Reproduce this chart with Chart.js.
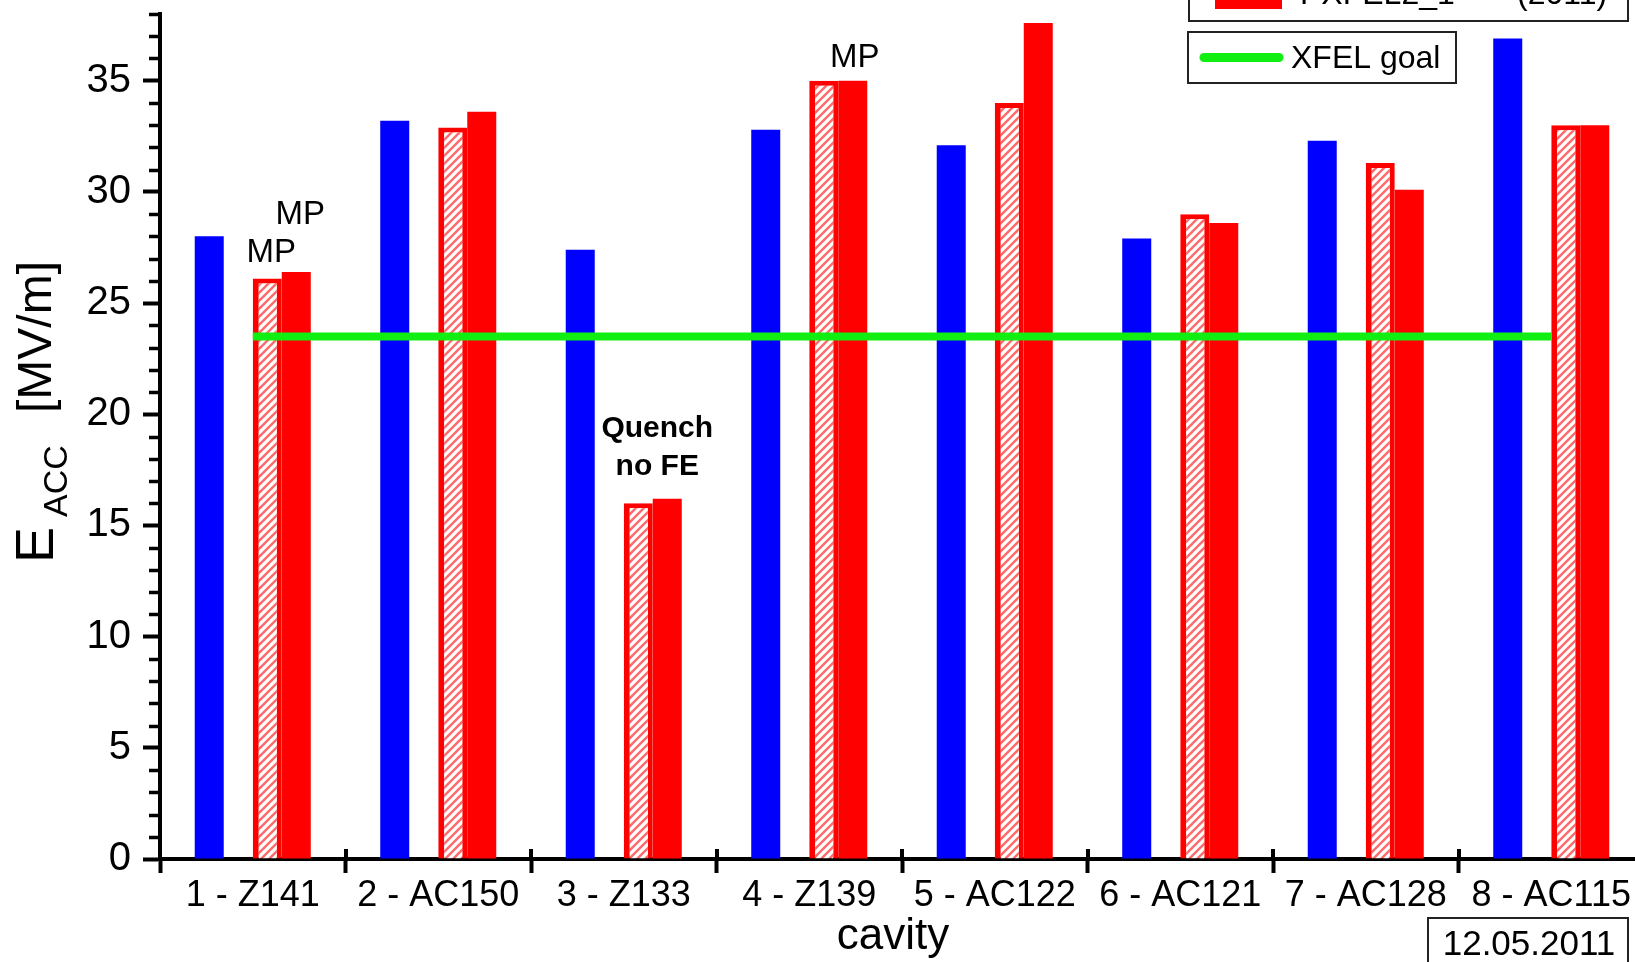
<!DOCTYPE html>
<html><head><meta charset="utf-8">
<script src="https://cdn.jsdelivr.net/npm/chart.js@4/dist/chart.umd.min.js"></script>
<style>
html,body{margin:0;padding:0;background:#fff;overflow:hidden;width:1635px;height:962px}
#wrap{position:absolute;left:0;top:0;width:1646px;height:962px}
</style></head><body><div id="wrap"><canvas id="c" width="1646" height="962"></canvas></div>
<script>
// ---- data ----
const categories = ['1 - Z141','2 - AC150','3 - Z133','4 - Z139','5 - AC122','6 - AC121','7 - AC128','8 - AC115'];
const verticalTest = [28.0, 33.2, 27.4, 32.8, 32.1, 27.9, 32.3, 36.9];
const gapSlot      = [null, null, null, null, null, null, null, null];
const moduleHatched = [26.1, 32.9, 16.0, 35.0, 34.0, 29.0, 31.3, 33.0];
const moduleSolid   = [26.4, 33.6, 16.2, 35.0, 37.6, 28.6, 30.1, 33.0];
const xfelGoal = [23.5, 23.5, 23.5, 23.5, 23.5, 23.5, 23.5, 23.5];
const yMin = 0, yMax = 38, yMajorStep = 5, yMinorStep = 1;
const legendLabels = ['PXFEL2_1       (2011)', 'XFEL goal'];
const dateLabel = '12.05.2011';
const xTitle = 'cavity';
const annotations = [
  {ds: 2, idx: 0, lines: ['MP'], bold: false, dx: 4, dy: -26},
  {ds: 3, idx: 0, lines: ['MP'], bold: false, dx: 4, dy: -57},
  {ds: 3, idx: 3, lines: ['MP'], bold: false, dx: 2, dy: -23},
  {ds: 3, idx: 2, lines: ['Quench', 'no FE'], bold: true, dx: -10, dy: -32}
];

const FONT = '"Liberation Sans", Arial, Helvetica, sans-serif';
Chart.defaults.font.family = FONT;
Chart.defaults.color = '#000';

function hatchPattern() {
  const s = 8;
  const c = document.createElement('canvas');
  c.width = s; c.height = s;
  const g = c.getContext('2d');
  g.fillStyle = '#fff'; g.fillRect(0, 0, s, s);
  g.strokeStyle = '#ff6a6a'; g.lineWidth = 2.4;
  g.beginPath();
  g.moveTo(0, s); g.lineTo(s, 0);
  g.moveTo(-s / 2, s / 2); g.lineTo(s / 2, -s / 2);
  g.moveTo(s / 2, s * 1.5); g.lineTo(s * 1.5, s / 2);
  g.stroke();
  return g.createPattern(c, 'repeat');
}

const decor = {
  id: 'decor',
  afterDatasetsDraw(chart) {
    const ctx = chart.ctx;
    ctx.save();
    ctx.fillStyle = '#000';
    ctx.textAlign = 'center';
    ctx.textBaseline = 'middle';
    annotations.forEach(a => {
      const el = chart.getDatasetMeta(a.ds).data[a.idx];
      const n = a.lines.length;
      const lh = a.bold ? 38 : 34;
      ctx.font = (a.bold ? 'bold 30px ' : '33px ') + FONT;
      a.lines.forEach((t, k) => {
        ctx.fillText(t, el.x + a.dx, el.y + a.dy - (n - 1 - k) * lh);
      });
    });
    ctx.restore();
  },
  afterDraw(chart) {
    const ctx = chart.ctx;
    const ca = chart.chartArea;
    const sx = chart.scales.x, sy = chart.scales.y;
    ctx.save();
    // minor y ticks
    ctx.strokeStyle = '#000'; ctx.lineWidth = 3.5;
    ctx.beginPath();
    for (let v = yMin; v <= yMax; v += yMinorStep) {
      if (v % yMajorStep === 0) continue;
      const y = Math.round(sy.getPixelForValue(v)) + 0.5;
      ctx.moveTo(ca.left - 11, y); ctx.lineTo(ca.left, y);
    }
    ctx.stroke();
    // inner part of category separators
    ctx.lineWidth = 4;
    ctx.beginPath();
    for (let i = 1; i < categories.length; i++) {
      const x = Math.round((sx.getPixelForValue(i - 1) + sx.getPixelForValue(i)) / 2);
      ctx.moveTo(x, ca.bottom); ctx.lineTo(x, ca.bottom - 10);
    }
    ctx.stroke();
    // x axis title
    ctx.fillStyle = '#000';
    ctx.font = '44px ' + FONT;
    ctx.textAlign = 'center'; ctx.textBaseline = 'middle';
    ctx.fillText(xTitle, ca.left + (ca.right - ca.left) * 0.494, 937);
    // y axis title with subscript
    ctx.textBaseline = 'alphabetic';
    ctx.textAlign = 'left';
    ctx.translate(53, 563);
    ctx.rotate(-Math.PI / 2);
    ctx.font = '54px ' + FONT; ctx.fillText('E', 0, 0);
    ctx.font = '34px ' + FONT; ctx.fillText('ACC', 46, 14);
    ctx.font = '48px ' + FONT; ctx.fillText('[MV/m]', 150, -2);
    ctx.restore();

    // legend boxes
    ctx.save();
    ctx.lineWidth = 2; ctx.strokeStyle = '#222';
    ctx.fillStyle = '#fff';
    ctx.fillRect(1189, -60, 439, 81); ctx.strokeRect(1189, -60, 439, 81);
    ctx.fillStyle = '#ff0000';
    ctx.fillRect(1215, -30, 67, 39);
    ctx.fillStyle = '#000'; ctx.font = '32px ' + FONT;
    ctx.textAlign = 'left'; ctx.textBaseline = 'alphabetic';
    ctx.fillText(legendLabels[0], 1300, 4);

    ctx.fillStyle = '#fff';
    ctx.fillRect(1188, 32, 268, 51); ctx.strokeRect(1188, 32, 268, 51);
    ctx.strokeStyle = '#11ee11'; ctx.lineWidth = 9; ctx.lineCap = 'round';
    ctx.beginPath(); ctx.moveTo(1204, 57.5); ctx.lineTo(1279, 57.5); ctx.stroke();
    ctx.fillStyle = '#000'; ctx.textBaseline = 'middle';
    ctx.fillText(legendLabels[1], 1291, 59);

    // date box
    ctx.lineWidth = 2; ctx.strokeStyle = '#222'; ctx.fillStyle = '#fff';
    ctx.fillRect(1428, 918, 200, 80); ctx.strokeRect(1428, 918, 200, 80);
    ctx.fillStyle = '#000'; ctx.font = '35px ' + FONT; ctx.textAlign = 'center';
    ctx.fillText(dateLabel, 1529, 945);
    ctx.restore();
  }
};

const ctx = document.getElementById('c').getContext('2d');
new Chart(ctx, {
  type: 'bar',
  data: {
    labels: categories,
    datasets: [
      {label: 'vertical test', data: verticalTest, backgroundColor: '#0000ff', borderWidth: 0, order: 1},
      {label: '', data: gapSlot, backgroundColor: 'rgba(0,0,0,0)', order: 1},
      {label: 'module hatched', data: moduleHatched, backgroundColor: hatchPattern(), borderColor: '#ff0000', borderWidth: {left: 6, top: 5, right: 5, bottom: 0}, order: 1},
      {label: legendLabels[0], data: moduleSolid, backgroundColor: '#ff0000', borderWidth: 0, order: 1},
      {type: 'line', label: legendLabels[1], data: xfelGoal, borderColor: '#11ee11', borderWidth: 8, pointRadius: 0, fill: false, order: 0, borderCapStyle: 'butt'}
    ]
  },
  options: {
    responsive: false,
    animation: false,
    devicePixelRatio: 1,
    categoryPercentage: 0.6255,
    barPercentage: 1.0,
    layout: {padding: {top: 14, right: 2, left: 0, bottom: 0}},
    plugins: {legend: {display: false}, tooltip: {enabled: false}, title: {display: false}},
    scales: {
      x: {
        offset: true,
        grid: {display: true, offset: true, drawOnChartArea: false, drawTicks: true, tickLength: 14, tickWidth: 4, tickColor: '#000'},
        border: {display: true, color: '#000', width: 4},
        ticks: {font: {size: 36}, color: '#000', padding: 1, maxRotation: 0, minRotation: 0, autoSkip: false},
        title: {display: false},
        afterFit(s) { s.height = 103; s.paddingLeft = 0; s.paddingRight = 0; }
      },
      y: {
        min: yMin, max: yMax,
        ticks: {stepSize: yMajorStep, includeBounds: false, font: {size: 40}, color: '#000', padding: 12},
        grid: {drawOnChartArea: false, tickLength: 17, tickWidth: 4, tickColor: '#000'},
        border: {display: true, color: '#000', width: 4},
        afterFit(s) { s.width = 160; s.paddingTop = 0; s.paddingBottom = 0; }
      }
    }
  },
  plugins: [decor]
});
</script></body></html>
